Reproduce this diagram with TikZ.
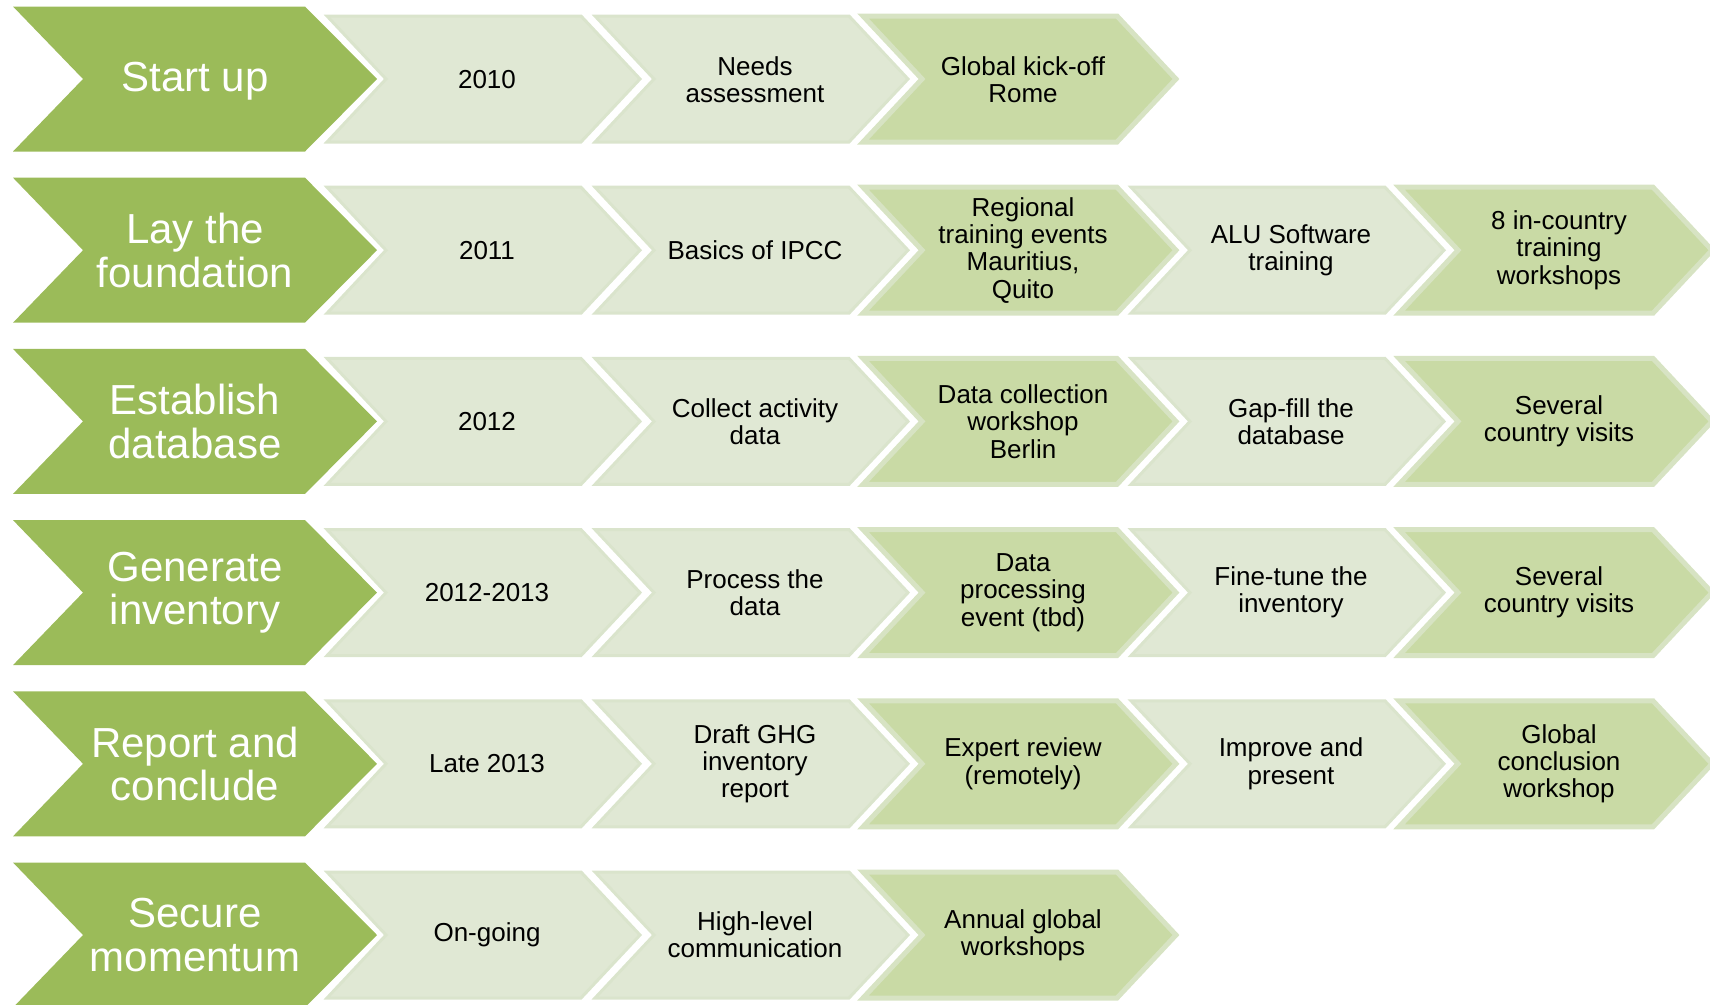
\documentclass[tikz,border=0pt]{standalone}
\usepackage{fontspec}
\setmainfont{Liberation Sans}
\usetikzlibrary{positioning}

\definecolor{phasegreen}{HTML}{9BBB59}
\definecolor{lightgreen}{HTML}{E0E8D4}
\definecolor{lightedge}{HTML}{DAE4CC}
\definecolor{midgreen}{HTML}{C9DAA5}
\definecolor{midedge}{HTML}{D7E3C3}

\tikzset{
  pics/phaseshape/.style={code={
    \path[pic actions] (0,-72.5) -- (292,-72.5) -- (364,0) -- (292,72.5) -- (0,72.5) -- (70,0) -- cycle;}},
  pics/stepshape/.style={code={
    \path[pic actions] (2,-63) -- (256,-63) -- (315,0) -- (256,63) -- (2,63) -- (61,0) -- cycle;}}
}

\begin{document}
\begin{tikzpicture}[x=1pt,y=-1pt,
  phase/.style={fill=phasegreen},
  lightstep/.style={fill=lightgreen, draw=lightedge, line width=3pt, line join=miter},
  midstep/.style={fill=midgreen, draw=midedge, line width=5pt, line join=miter},
  phasetext/.style={text=white, align=center, font=\fontsize{42}{43.6}\selectfont},
  steptext/.style={align=center, font=\fontsize{26}{27.3}\selectfont}]
\clip (0,0) rectangle (1710,1004);

% the chevrons
\foreach \y in {79,250.2,421.4,592.6,763.8,935}{
  \pic[phase] at (13,\y) {phaseshape};
  \pic[lightstep] at (325,\y) {stepshape};
  \pic[lightstep] at (593,\y) {stepshape};
  \pic[midstep] at (861,\y) {stepshape};
}
\foreach \y in {250.2,421.4,592.6,763.8}{
  \pic[lightstep] at (1129,\y) {stepshape};
  \pic[midstep] at (1397,\y) {stepshape};
}

% Start up
\node[phasetext] (start) at (195,81) {Start up};
\node[steptext] (start-when) at (487,80) {2010};
\node[steptext] (start-a) at (755,80) {Needs\\assessment};
\node[steptext] (start-b) at (1023,80) {Global kick-off\\Rome};

% Lay the foundation
\node[phasetext] (lay) at (195,250.2) {Lay the\\foundation};
\node[steptext] (lay-when) at (487,250.2) {2011};
\node[steptext] (lay-a) at (755,250.2) {Basics of IPCC};
\node[steptext] (lay-b) at (1023,250.2) {Regional\\training events\\Mauritius,\\Quito};
\node[steptext] (lay-c) at (1291,250.2) {ALU Software\\training};
\node[steptext] (lay-d) at (1559,250.2) {8 in-country\\training\\workshops};

% Establish database
\node[phasetext] (base) at (195,421.4) {Establish\\database};
\node[steptext] (base-when) at (487,421.4) {2012};
\node[steptext] (base-a) at (755,421.4) {Collect activity\\data};
\node[steptext] (base-b) at (1023,421.4) {Data collection\\workshop\\Berlin};
\node[steptext] (base-c) at (1291,421.4) {Gap-fill the\\database};
\node[steptext] (base-d) at (1559,421.4) {Several\\country visits};

% Generate inventory
\node[phasetext] (inv) at (195,592.6) {Generate\\inventory};
\node[steptext] (inv-when) at (487,592.6) {2012-2013};
\node[steptext] (inv-a) at (755,592.6) {Process the\\data};
\node[steptext] (inv-b) at (1023,592.6) {Data\\processing\\event (tbd)};
\node[steptext] (inv-c) at (1291,592.6) {Fine-tune the\\inventory};
\node[steptext] (inv-d) at (1559,592.6) {Several\\country visits};

% Report and conclude
\node[phasetext] (rep) at (195,763.8) {Report and\\conclude};
\node[steptext] (rep-when) at (487,763.8) {Late 2013};
\node[steptext] (rep-a) at (755,763.8) {Draft GHG\\inventory\\report};
\node[steptext] (rep-b) at (1023,763.8) {Expert review\\(remotely)};
\node[steptext] (rep-c) at (1291,763.8) {Improve and\\present};
\node[steptext] (rep-d) at (1559,763.8) {Global\\conclusion\\workshop};

% Secure momentum
\node[phasetext] (sec) at (195,935) {Secure\\momentum};
\node[steptext] (sec-when) at (487,935) {On-going};
\node[steptext] (sec-a) at (755,935) {High-level\\communication};
\node[steptext] (sec-b) at (1023,935) {Annual global\\workshops};
\end{tikzpicture}
\end{document}
